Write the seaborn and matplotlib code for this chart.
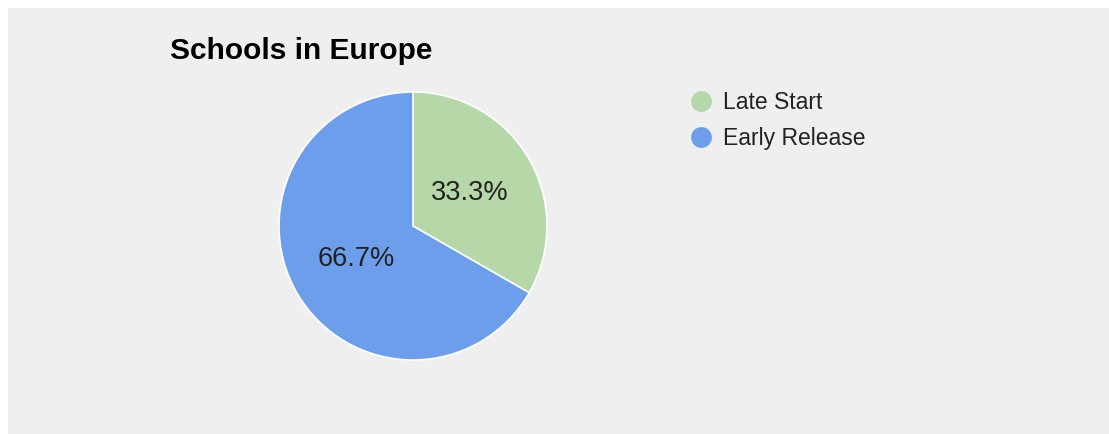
import matplotlib
matplotlib.use("Agg")
import matplotlib.pyplot as plt
import seaborn as sns
from matplotlib.lines import Line2D
from matplotlib.patches import Rectangle

categories = ["Late Start", "Early Release"]
values = [33.3, 66.7]
colors = ["#b6d7a8", "#6d9eeb"]
title = "Schools in Europe"

sns.set_style("white")
plt.rcParams['font.family'] = ['Liberation Sans', 'DejaVu Sans']
palette = sns.color_palette(colors)

W, H = 1109, 434
fig = plt.figure(figsize=(W / 100, H / 100), dpi=100, facecolor="white")
fig.patches.append(Rectangle((8 / W, 0), 1 - 8 / W, 1 - 8 / H, transform=fig.transFigure,
                             facecolor="#efefef", edgecolor="none", zorder=-10))

cx, cy, r = 413, 226, 134
ax = fig.add_axes([(cx - r) / W, 1 - (cy + r) / H, 2 * r / W, 2 * r / H])
ax.set_facecolor("none")
wedges, texts, autotexts = ax.pie(values, colors=palette, startangle=90, counterclock=False,
                                  autopct="%.1f%%", pctdistance=0.49,
                                  wedgeprops=dict(edgecolor="white", linewidth=1.2),
                                  textprops=dict(fontsize=19.5, color="#222222"))
ax.set_xlim(-1, 1)
ax.set_ylim(-1, 1)
ax.set_aspect("equal")
ax.axis("off")

fig.text(170 / W, 1 - 51 / H, title, fontsize=21.5, fontweight="bold", color="#000000",
         ha="left", va="center")

handles = [Line2D([0], [0], marker="o", linestyle="none", markersize=15,
                  markerfacecolor=c, markeredgecolor="none") for c in palette]
leg = fig.legend(handles, categories, loc="upper left", bbox_to_anchor=(687 / W, 1 - 91 / H),
                 frameon=False, fontsize=16.5, handletextpad=0.35, labelspacing=0.55,
                 handlelength=1.2, borderaxespad=0, borderpad=0)
for t in leg.get_texts():
    t.set_color("#222222")

fig.savefig("out.png", dpi=100, facecolor="white")
